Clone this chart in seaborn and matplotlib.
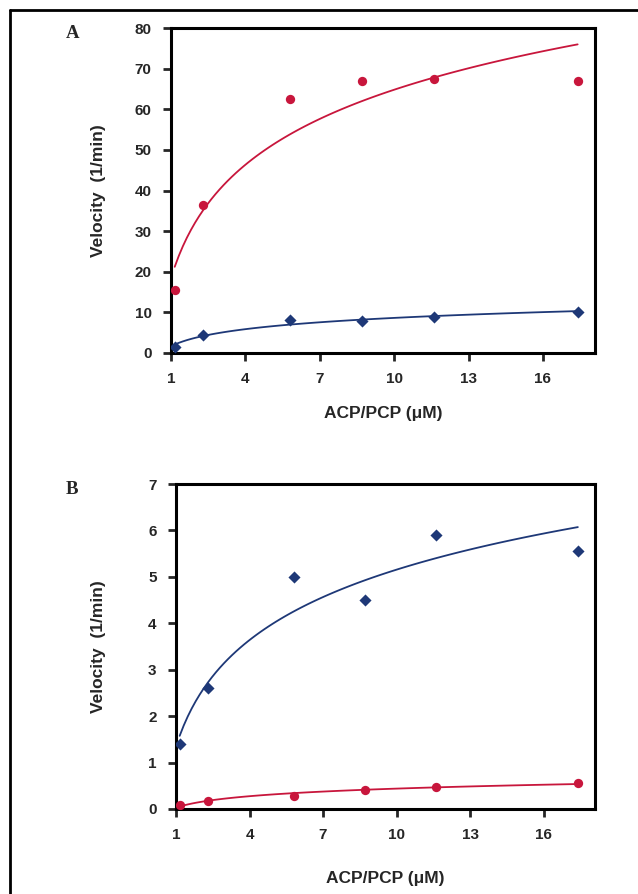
import matplotlib
matplotlib.use("Agg")
import matplotlib.pyplot as plt
from matplotlib.lines import Line2D
import seaborn as sns
import pandas as pd

sns.set_style("white")
plt.rcParams["font.family"] = ["Liberation Sans", "DejaVu Sans"]

# ── Data ───────────────────────────────────────
conc = [1.15, 2.3, 5.8, 8.7, 11.6, 17.4]

a_red = [15.5, 36.5, 62.5, 67.0, 67.5, 67.0]
a_blue = [1.5, 4.5, 8.2, 7.9, 8.8, 10.0]

b_blue = [1.4, 2.6, 5.0, 4.5, 5.9, 5.55]
b_red = [0.08, 0.17, 0.28, 0.42, 0.48, 0.56]

x_ticks = [1, 4, 7, 10, 13, 16]
a_yticks = [0, 10, 20, 30, 40, 50, 60, 70, 80]
b_yticks = [0, 1, 2, 3, 4, 5, 6, 7]

RED = "#C8163C"
BLUE = "#1E3877"

fig = plt.figure(figsize=(6.38, 8.94), dpi=100)


def panel(rect, red, blue, yticks, letter, ylab_x, xlab_y, letter_y):
    ax = fig.add_axes(rect)
    df = pd.DataFrame({"conc": conc, "red": red, "blue": blue})
    for col, color, marker, size in [("red", RED, "o", 45), ("blue", BLUE, "D", 38)]:
        # Excel-style logarithmic trendline through the points
        sns.regplot(data=df, x="conc", y=col, logx=True, ci=None, scatter=False,
                    color=color, line_kws={"linewidth": 1.3}, ax=ax)
        sns.scatterplot(data=df, x="conc", y=col, color=color, marker=marker,
                        s=size, edgecolor=color, linewidth=0, ax=ax, zorder=3)

    ax.set_xlim(1, 18.1)
    ax.set_ylim(yticks[0], yticks[-1])
    ax.set_xticks(x_ticks)
    ax.set_yticks(yticks)
    ax.tick_params(axis="both", direction="out", length=6, width=2,
                   labelsize=11, pad=8, bottom=True, left=True)
    for lab in ax.get_xticklabels() + ax.get_yticklabels():
        lab.set_fontweight("bold")
    for sp in ax.spines.values():
        sp.set_linewidth(2.2)
        sp.set_color("black")
    ax.set_xlabel("ACP/PCP (μM)", fontsize=12.5, fontweight="bold")
    ax.set_ylabel("Velocity  (1/min)", fontsize=12.5, fontweight="bold")
    ax.xaxis.set_label_coords(0.5, xlab_y)
    ax.yaxis.set_label_coords(ylab_x, 0.5)
    ax.grid(False)
    fig.text(66 / 638, letter_y, letter, fontsize=13.5,
             fontweight="bold", family="Liberation Serif", ha="left", va="center")
    return ax


panel([171 / 638, 1 - 353 / 894, (595 - 171) / 638, (353 - 28) / 894],
      a_red, a_blue, a_yticks, "A", (106 - 171) / 424, -53 / 325, 1 - 33 / 894)
panel([176 / 638, 1 - 809 / 894, (595 - 176) / 638, (809 - 484) / 894],
      b_red, b_blue, b_yticks, "B", (106 - 176) / 419, -62 / 325, 1 - 490 / 894)

# page frame (top and left edges)
fig.add_artist(Line2D([10 / 638, 1.0], [1 - 10 / 894, 1 - 10 / 894],
                      transform=fig.transFigure, color="black", linewidth=2))
fig.add_artist(Line2D([10 / 638, 10 / 638], [0.0, 1 - 10 / 894],
                      transform=fig.transFigure, color="black", linewidth=2))

fig.savefig("out.png", dpi=100)
plt.close(fig)
